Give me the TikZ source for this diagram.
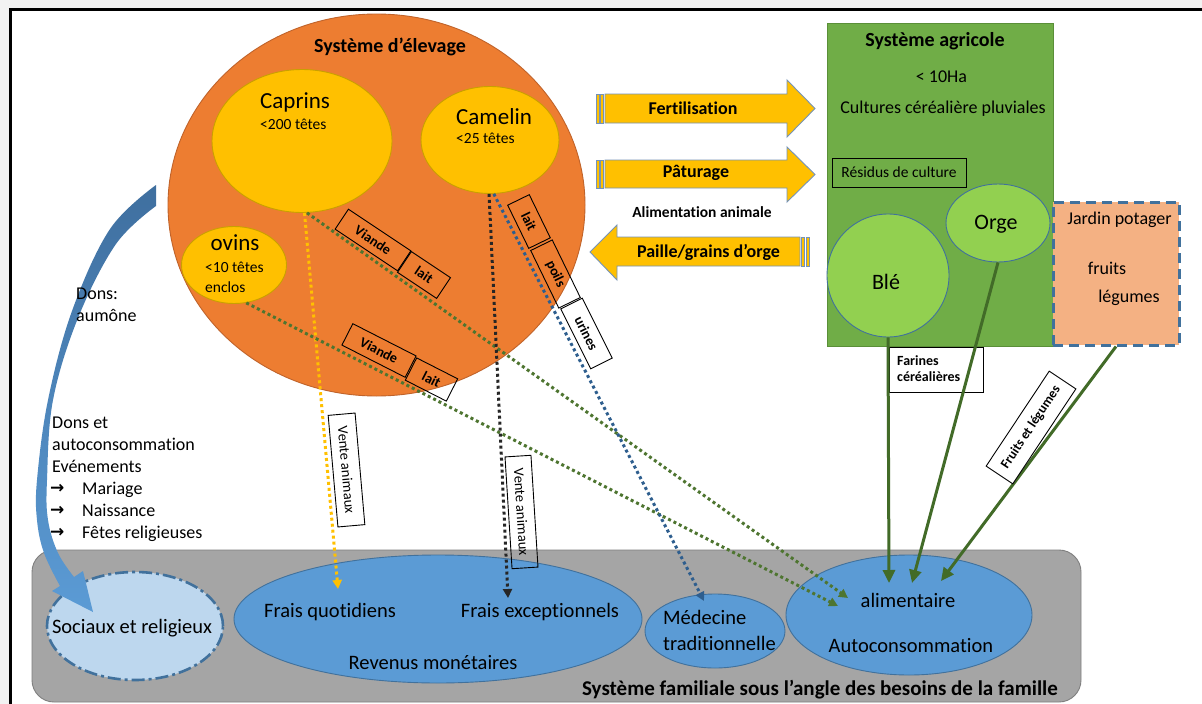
\documentclass[tikz,border=0pt]{standalone}
\usepackage{fontspec}
\setmainfont{Carlito}[Ligatures={NoCommon}]
\newfontfamily\dejavu{DejaVu Sans}
\usetikzlibrary{shapes.geometric,arrows.meta}
\definecolor{cOrange}{HTML}{ED7D31}
\definecolor{cOrangeD}{HTML}{C0632A}
\definecolor{cGold}{HTML}{FFC000}
\definecolor{cGoldD}{HTML}{C9A000}
\definecolor{cGreen}{HTML}{70AD47}
\definecolor{cGreenD}{HTML}{5A8F38}
\definecolor{cLime}{HTML}{92D050}
\definecolor{cBlueEdge}{HTML}{41719C}
\definecolor{cPeach}{HTML}{F4B183}
\definecolor{cBlue}{HTML}{5B9BD5}
\definecolor{cPale}{HTML}{BDD7EE}
\definecolor{cGray}{HTML}{A5A5A5}
\definecolor{cGrayD}{HTML}{7F7F7F}
\definecolor{cDotG}{HTML}{4E7530}
\definecolor{cDotB}{HTML}{2E5E8E}
\definecolor{cDotK}{HTML}{262626}
\definecolor{cLineG}{HTML}{426B28}
\definecolor{cArrowTop}{HTML}{3F6F9F}
\definecolor{cArrowBot}{HTML}{5B9BD5}
\definecolor{cBlkEdge}{HTML}{7593B8}
\newcommand{\fsBig}{\fontsize{23}{27}\selectfont}
\newcommand{\fsSub}{\fontsize{15.5}{19}\selectfont}
\newcommand{\fsBody}{\fontsize{18}{22}\selectfont}
\newcommand{\fsBot}{\fontsize{20.5}{25}\selectfont}
\newcommand{\fsTitle}{\fontsize{20}{24}\selectfont\bfseries}
\newcommand{\fsArr}{\fontsize{18}{22}\selectfont\bfseries}
\newcommand{\fsLbl}{\fontsize{14}{16}\selectfont\bfseries}
\newcommand{\fsLblR}{\fontsize{14.5}{16}\selectfont}
\tikzset{
  ell/.style={ellipse, inner sep=0pt},
  boxshape/.style={rectangle, inner sep=0pt},
  dotline/.style={line width=3pt, dash pattern=on 3pt off 3pt},
  dottip/.style={-{Triangle[length=9pt,width=9pt]}},
  solline/.style={line width=3pt, color=cLineG, -{Triangle[length=13pt,width=12pt]}},
  lbl/.style={draw=black, line width=0.9pt, inner sep=0pt, font=\fsLbl},
  lblr/.style={draw=black, line width=0.9pt, inner sep=0pt, font=\fsLblR},
  blk/.style={fill=cGold, draw=cBlkEdge, line width=0.9pt},
  txt/.style={inner sep=0pt},
}
\begin{document}
\begin{tikzpicture}[x=1pt,y=-1pt]
\useasboundingbox (0,0) rectangle (1202,704);
% frame
\fill[gray!10] (0,0) rectangle (1202,704);
\fill[white] (10,9) rectangle (1202,704);
\draw[line width=3pt, line cap=rect] (10,704) -- (10,9) -- (1202,9);

% family system
\node[boxshape, fill=cGray, draw=cGrayD, line width=0.9pt, rounded corners=22pt, minimum width=1049pt, minimum height=152pt] (famille) at (556.5,626) {};
\node[ell, fill=cPale, draw=cBlueEdge, line width=2.6pt, dash pattern=on 13pt off 4pt on 3pt off 4pt, minimum width=176pt, minimum height=108pt] (sociaux) at (135,626) {};
\node[ell, fill=cBlue, draw=cBlueEdge, line width=0.9pt, minimum width=408pt, minimum height=128pt] (revenus) at (438,619) {};
\node[ell, fill=cBlue, draw=cBlueEdge, line width=0.9pt, minimum width=140pt, minimum height=74pt] (medecine) at (715,631) {};
\node[ell, fill=cBlue, draw=cBlueEdge, line width=0.9pt, minimum width=246pt, minimum height=120pt] (alim) at (909,615) {};

% curved blue arrow
\shade[top color=cArrowTop, bottom color=cArrowBot]
  plot[smooth, tension=0.6] coordinates {(156,185) (110,229) (72,311) (48,400) (37,480) (37,520) (44,553) (60,586)}
  -- (52,591) -- (93,612) -- (83,571) -- (74,577)
  -- plot[smooth, tension=0.6] coordinates {(74,577) (58,553) (48,520) (47,480) (53,400) (78,318) (116,244) (156,206)}
  -- cycle;

% livestock system
\node[ell, fill=cOrange, draw=cOrangeD, line width=0.9pt, minimum width=417pt, minimum height=382pt] (elevage) at (376.5,205) {};
\node[ell, fill=cGold, draw=cGoldD, line width=0.9pt, minimum width=180pt, minimum height=143pt] (caprins) at (302,141) {};
\node[ell, fill=cGold, draw=cGoldD, line width=0.9pt, minimum width=138pt, minimum height=107pt] (camelin) at (490,140) {};
\node[ell, fill=cGold, draw=cGoldD, line width=0.9pt, minimum width=105pt, minimum height=77pt] (ovins) at (234,265) {};

% agricultural system
\node[boxshape, fill=cGreen, draw=cGreenD, line width=0.9pt, minimum width=226pt, minimum height=323pt] (agricole) at (940,184.5) {};
\node[boxshape, draw=black, line width=0.9pt, minimum width=134pt, minimum height=29pt, font=\fsSub] (residus) at (899,172.5) {Résidus de culture};
\node[ell, fill=cLime, draw=cBlueEdge, line width=0.9pt, minimum width=122pt, minimum height=123pt] (ble) at (888,275.5) {};
\node[ell, fill=cLime, draw=cBlueEdge, line width=0.9pt, minimum width=104pt, minimum height=78pt] (orge) at (998,223) {};
\node[boxshape, fill=cPeach, draw=cBlueEdge, line width=3pt, dash pattern=on 10pt off 6pt, minimum width=126pt, minimum height=143pt] (jardin) at (1116,273.5) {};
\node[boxshape, fill=white, draw=black, line width=0.9pt, minimum width=94pt, minimum height=45pt] (farines) at (936,369.5) {};

% block arrows
\draw[blk] (605,94) -- (787,94) -- (787,80) -- (815,108.5) -- (787,137) -- (787,123) -- (605,123) -- cycle;
\draw[blk] (596,94) rectangle (599,123);
\draw[blk] (600.5,94) rectangle (603.5,123);
\draw[blk] (605,160) -- (787,160) -- (787,147) -- (815,174.5) -- (787,202) -- (787,188) -- (605,188) -- cycle;
\draw[blk] (596,160) rectangle (599,188);
\draw[blk] (600.5,160) rectangle (603.5,188);
\draw[blk] (800,237) -- (617,237) -- (617,225) -- (590,252) -- (617,280) -- (617,266) -- (800,266) -- cycle;
\draw[blk] (801.5,237) rectangle (804.5,266);
\draw[blk] (806,237) rectangle (809,266);

% end points of connectors
\coordinate (qTip) at (338,589);
\coordinate (eTip) at (508,598);
\coordinate (mTip) at (704,601);
\coordinate (aTip1) at (848,598);
\coordinate (aTip2) at (838,606);
\coordinate (fTip1) at (889,583);
\coordinate (fTip2) at (912,583);
\coordinate (fTip3) at (941,581);

% dotted connectors
\draw[dotline, cGold, dottip] (caprins.-88) -- (qTip);
\draw[dotline, cDotG, dottip] (caprins.-86) -- (aTip1);
\draw[dotline, cDotG, dottip] (ovins.-72) -- (aTip2);
\draw[dotline, cDotK, dottip] (camelin.-91) -- (eTip);
\draw[dotline, cDotB, dottip] (camelin.-86) -- (mTip);

% solid green connectors
\draw[solline] (ble.south) -- (fTip1);
\draw[solline] (orge.south) -- (fTip2);
\draw[solline] (jardin.south) -- (fTip3);

% labels on connectors
\node[lbl, minimum width=75pt, minimum height=24pt, rotate=-33.7] (lViande1) at (373,240) {Viande};
\node[lbl, minimum width=47pt, minimum height=25pt, rotate=-33.7] (lLait1) at (424,275) {lait};
\node[lbl, minimum width=71pt, minimum height=24pt, rotate=-27] (lViande2) at (379,350.5) {Viande};
\node[lbl, minimum width=46pt, minimum height=25pt, rotate=-27] (lLait2) at (431.5,379.5) {lait};
\node[lbl, minimum width=48pt, minimum height=24pt, rotate=-64] (lLait3) at (529,221.5) {lait};
\node[lbl, minimum width=64pt, minimum height=24pt, rotate=-64] (lPoils) at (555.5,274) {poils};
\node[lbl, minimum width=67pt, minimum height=24pt, rotate=-63.4] (lUrines) at (586.5,333.5) {urines};
\node[lblr, minimum width=112pt, minimum height=27pt, rotate=-85] (lVente1) at (346.5,470) {Vente animaux};
\node[lblr, minimum width=112pt, minimum height=26pt, rotate=-86.4] (lVente2) at (521.5,512) {Vente animaux};
\node[lbl, fill=white, minimum width=114pt, minimum height=32pt, rotate=56.4, font=\fontsize{13.5}{16}\selectfont\bfseries] (lFruits) at (1031,427.5) {Fruits et légumes};

% texts: livestock
\node[txt, font=\fsTitle] at (390,47) {Système d’élevage};
\node[txt, font=\fsBig, anchor=west] at (260,102) {Caprins};
\node[txt, font=\fsSub, anchor=west] at (260,124.5) {<200 têtes};
\node[txt, font=\fsBig, anchor=west] at (456,117) {Camelin};
\node[txt, font=\fsSub, anchor=west] at (456,138.5) {<25 têtes};
\node[txt, font=\fsBig] at (235,243) {ovins};
\node[txt, font=\fsSub, anchor=west] at (205,267) {<10 têtes};
\node[txt, font=\fsSub, anchor=west] at (205,287) {enclos};

% texts: arrows
\node[txt, font=\fsArr] at (693,108) {Fertilisation};
\node[txt, font=\fsArr] at (696,173) {Pâturage};
\node[txt, font=\fontsize{15.5}{19}\selectfont\bfseries] at (702,212) {Alimentation animale};
\node[txt, font=\fsArr] at (708.5,252) {Paille/grains d’orge};

% texts: agriculture
\node[txt, font=\fsTitle] at (935,41) {Système agricole};
\node[txt, font=\fsBody] at (941.5,77) {< 10Ha};
\node[txt, font=\fsBody] at (943,109) {Cultures céréalière pluviales};
\node[txt, font=\fontsize{22}{26}\selectfont] at (886,282) {Blé};
\node[txt, font=\fontsize{22}{26}\selectfont] at (996,224) {Orge};
\node[txt, font=\fsBody] at (1119.5,220) {Jardin potager};
\node[txt, font=\fsBody] at (1107,268) {fruits};
\node[txt, font=\fsBody] at (1129,298) {légumes};
\node[txt, font=\fsLbl, anchor=west] at (897,361) {Farines};
\node[txt, font=\fsLbl, anchor=west] at (897,377) {céréalières};

% texts: left
\node[txt, font=\fsBody, anchor=base west] at (76,299) {Dons:};
\node[txt, font=\fsBody, anchor=base west] at (76,321) {aumône};
\node[txt, font=\fsBody, anchor=base west] at (52,428) {Dons et};
\node[txt, font=\fsBody, anchor=base west] at (52,450) {autoconsommation};
\node[txt, font=\fsBody, anchor=base west] at (52,472) {Evénements};
\node[txt, font=\fontsize{17}{20}\selectfont\dejavu\bfseries, anchor=base west] at (50,493) {→};
\node[txt, font=\fontsize{17}{20}\selectfont\dejavu\bfseries, anchor=base west] at (50,515) {→};
\node[txt, font=\fontsize{17}{20}\selectfont\dejavu\bfseries, anchor=base west] at (50,537) {→};
\node[txt, font=\fsBody, anchor=base west] at (82,494) {Mariage};
\node[txt, font=\fsBody, anchor=base west] at (82,516) {Naissance};
\node[txt, font=\fsBody, anchor=base west] at (82,538) {Fêtes religieuses};

% texts: bottom
\node[txt, font=\fsBot] at (132,628) {Sociaux et religieux};
\node[txt, font=\fsBot] at (330,612) {Frais quotidiens};
\node[txt, font=\fsBot] at (540,612) {Frais exceptionnels};
\node[txt, font=\fsBot] at (433,663) {Revenus monétaires};
\node[txt, font=\fsBot, anchor=west] at (663,617) {Médecine};
\node[txt, font=\fsBot, anchor=west] at (663,643) {traditionnelle};
\node[txt, font=\fsBot] at (908,600) {alimentaire};
\node[txt, font=\fsBot] at (911,646) {Autoconsommation};
\node[txt, font=\fontsize{21}{25}\selectfont\bfseries, anchor=east] at (1058,690) {Système familiale sous l’angle des besoins de la famille};
\end{tikzpicture}
\end{document}
